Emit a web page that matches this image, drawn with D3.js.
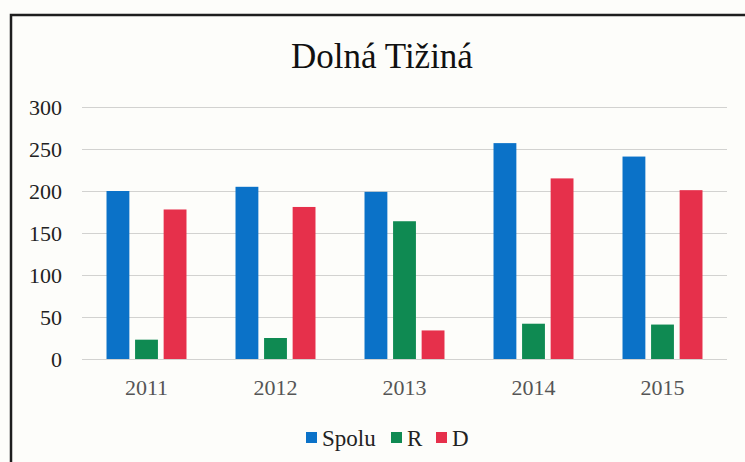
<!DOCTYPE html>
<html>
<head>
<meta charset="utf-8">
<script src="https://cdn.jsdelivr.net/npm/d3@7"></script>
<style>
    body { margin: 0; background: #fdfdfa; }
    svg text { font-family: "Liberation Serif", "Times New Roman", serif; }
</style>
</head>
<body>
<div id="chart-area"></div>
<script>
var years = ["2011", "2012", "2013", "2014", "2015"];
var seriesNames = ["Spolu", "R", "D"];
var spolu = [200, 205, 199, 257, 241];
var rValues = [23, 25, 164, 42, 41];
var dValues = [178, 181, 34, 215, 201];
var yTicks = [0, 50, 100, 150, 200, 250, 300];
var colors = ["#0b72c8", "#0f8a52", "#e6304b"];

var data = years.map((y, i) => ({
    year: y,
    values: [spolu[i], rValues[i], dValues[i]]
}));

var W = 745, H = 462;
var margin = { top: 107, right: 18, bottom: 103, left: 82 };
var width = W - margin.left - margin.right;
var height = H - margin.top - margin.bottom;

var svg = d3.select("#chart-area")
    .append("svg")
    .attr("width", W)
    .attr("height", H)
    .style("display", "block");

svg.append("rect")
    .attr("width", W)
    .attr("height", H)
    .attr("fill", "#fdfdfa");

// frame of the scanned chart, runs off the right and bottom edge
svg.append("rect")
    .attr("x", 11)
    .attr("y", 15)
    .attr("width", W + 20)
    .attr("height", H + 20)
    .attr("fill", "none")
    .attr("stroke", "#1e1e1e")
    .attr("stroke-width", 2.5);

svg.append("text")
    .attr("x", 382)
    .attr("y", 68)
    .attr("text-anchor", "middle")
    .attr("font-size", "35px")
    .attr("fill", "#111")
    .text("Dolná Tižiná");

var g = svg.append("g")
    .attr("transform", `translate(${margin.left}, ${margin.top})`);

var x0 = d3.scaleBand()
    .domain(years)
    .range([0, width])
    .paddingInner(0.38)
    .paddingOuter(0.19);

var x1 = d3.scaleBand()
    .domain(seriesNames)
    .range([0, x0.bandwidth()])
    .paddingInner(0.2)
    .paddingOuter(0);

var y = d3.scaleLinear()
    .domain([0, 300])
    .range([height, 0]);

var yAxis = g.append("g")
    .call(d3.axisLeft(y)
        .tickValues(yTicks)
        .tickSize(-width)
        .tickPadding(20));
yAxis.attr("font-family", null);
yAxis.select(".domain").remove();
yAxis.selectAll(".tick line")
    .attr("stroke", "#d2d2d0")
    .attr("stroke-width", 1.2);
yAxis.selectAll(".tick text")
    .attr("font-size", "22px")
    .attr("fill", "#222");

var xAxis = g.append("g")
    .attr("transform", `translate(0, ${height})`)
    .call(d3.axisBottom(x0).tickSize(0).tickPadding(20));
xAxis.attr("font-family", null);
xAxis.select(".domain").remove();
xAxis.selectAll(".tick text")
    .attr("font-size", "22px")
    .attr("fill", "#555");

var groups = g.selectAll(".year")
    .data(data)
    .enter()
    .append("g")
    .attr("class", "year")
    .attr("transform", d => `translate(${x0(d.year)}, 0)`);

groups.selectAll("rect")
    .data(d => d.values.map((v, i) => ({ name: seriesNames[i], value: v, i: i })))
    .enter()
    .append("rect")
    .attr("x", d => x1(d.name))
    .attr("y", d => y(d.value))
    .attr("width", x1.bandwidth())
    .attr("height", d => height - y(d.value))
    .attr("fill", d => colors[d.i]);

// legend
var legend = svg.append("g")
    .attr("transform", "translate(306, 438)");

var offsets = [0, 85, 130];
var items = legend.selectAll(".item")
    .data(seriesNames)
    .enter()
    .append("g")
    .attr("class", "item")
    .attr("transform", (d, i) => `translate(${offsets[i]}, 0)`);

items.append("rect")
    .attr("x", 0)
    .attr("y", -6)
    .attr("width", 11)
    .attr("height", 11)
    .attr("fill", (d, i) => colors[i]);

items.append("text")
    .attr("x", 16)
    .attr("y", 8)
    .attr("font-size", "23px")
    .attr("fill", "#222")
    .text(d => d);
</script>
</body>
</html>
